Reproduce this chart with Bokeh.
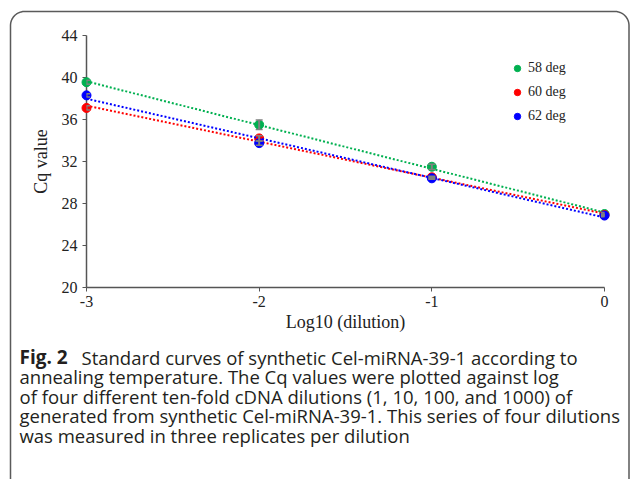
import numpy as np
from bokeh.plotting import figure
from bokeh.models import (ColumnDataSource, FixedTicker, Legend, LegendItem,
                          Whisker, TeeHead, Range1d)
from bokeh.core.properties import value
from bokeh.embed import file_html
from bokeh.resources import INLINE

# ---- data ----
log_dilution = [-3, -2, -1, 0]
series_names = ["58 deg", "60 deg", "62 deg"]
cq_58 = [39.55, 35.5, 31.5, 27.0]
cq_60 = [37.1, 34.2, 30.5, 26.9]
cq_62 = [38.3, 33.75, 30.4, 26.85]
err_58 = [0.2, 0.45, 0.25, 0.15]
err_60 = [0.2, 0.25, 0.1, 0.1]
err_62 = [0.15, 0.2, 0.1, 0.1]
colors = ["#00b050", "#ff0000", "#0000ff"]
y_ticks = [20, 24, 28, 32, 36, 40, 44]
x_ticks = [-3, -2, -1, 0]
x_tick_labels = ["-3", "-2", "-1", "0"]
caption_bold = "Fig. 2"
caption_lines = [
    "Standard curves of synthetic Cel-miRNA-39-1 according to",
    "annealing temperature. The Cq values were plotted against log",
    "of four different ten-fold cDNA dilutions (1, 10, 100, and 1000) of",
    "generated from synthetic Cel-miRNA-39-1. This series of four dilutions",
    "was measured in three replicates per dilution",
]

W, H = 630, 479
FL, FR, FT, FB = 86, 604, 35, 287

p = figure(width=W, height=H, output_backend="svg", toolbar_location=None,
           x_range=Range1d(-3, 0), y_range=Range1d(20, 44),
           min_border_left=FL, min_border_right=W - FR,
           min_border_top=FT, min_border_bottom=H - FB)
p.extra_x_ranges = {"px": Range1d(FL, FR)}
p.extra_y_ranges = {"px": Range1d(FB, FT)}
p.outline_line_color = None
p.xgrid.visible = False
p.ygrid.visible = False

serif = "Liberation Serif"
for ax in (p.xaxis[0], p.yaxis[0]):
    ax.axis_line_color = "#555555"
    ax.axis_line_width = 1.5
    ax.major_tick_line_color = "#555555"
    ax.major_tick_in = 0
    ax.major_tick_out = 4
    ax.minor_tick_line_color = None
    ax.major_label_text_font = serif
    ax.major_label_text_font_size = "16px"
    ax.major_label_text_color = "#222222"
    ax.axis_label_text_font = serif
    ax.axis_label_text_font_size = "18px"
    ax.axis_label_text_font_style = "normal"
    ax.axis_label_text_color = "#222222"

p.xaxis.ticker = FixedTicker(ticks=x_ticks)
p.xaxis.major_label_overrides = {t: s for t, s in zip(x_ticks, x_tick_labels)}
p.yaxis.ticker = FixedTicker(ticks=y_ticks)
p.xaxis.axis_label = "Log10 (dilution)"
p.yaxis.axis_label = "Cq value"
p.xaxis.major_label_standoff = 4
p.xaxis.axis_label_standoff = 2
p.yaxis.major_label_standoff = 5
p.yaxis.axis_label_standoff = 8

items = []
xs = np.array(log_dilution, dtype=float)
for name, ys, errs, col in zip(series_names, [cq_58, cq_60, cq_62],
                               [err_58, err_60, err_62], colors):
    ys = np.array(ys)
    slope, icpt = np.polyfit(xs, ys, 1)
    p.line([xs.min(), xs.max()], [slope * xs.min() + icpt, slope * xs.max() + icpt],
           line_color=col, line_width=2, line_dash="2 2", level="overlay")
    src = ColumnDataSource(dict(x=xs, y=ys, lo=ys - np.array(errs), hi=ys + np.array(errs)))
    w = Whisker(base="x", upper="hi", lower="lo", source=src, line_color="#808080",
                line_width=2, level="overlay",
                upper_head=TeeHead(size=7, line_color="#808080", line_width=1.5),
                lower_head=TeeHead(size=7, line_color="#808080", line_width=1.5))
    p.add_layout(w)
    r = p.scatter("x", "y", source=src, size=9, fill_color=col, line_color=col,
                  level="overlay")
    items.append(LegendItem(label=name, renderers=[r]))

leg = Legend(items=items, location=(423, 163), border_line_color=None,
             background_fill_alpha=0, padding=0, margin=0, spacing=8,
             glyph_width=16, glyph_height=16, label_height=16, label_standoff=3,
             label_text_font=serif, label_text_font_size="14px",
             label_text_color="#222222")
p.add_layout(leg)

# ---- outer panel border (pixel coordinates via the "px" ranges) ----
bl, bt, br, bb, rad = 10, 11, 628.5, 490, 14
t = np.linspace(0, np.pi / 2, 14)
left_corner_x = bl + rad - rad * np.cos(t)
left_corner_y = bt + rad - rad * np.sin(t)
right_corner_x = br - rad + rad * np.sin(t)
right_corner_y = bt + rad - rad * np.cos(t)
bx = np.concatenate([[bl], left_corner_x, right_corner_x, [br]])
by = np.concatenate([[bb], left_corner_y, right_corner_y, [bb]])
p.line(bx, by, x_range_name="px", y_range_name="px", line_color="#5a5a5a",
       line_width=1.5, level="overlay")

# ---- caption ----
sans = "Open Sans"
fs = "18.5px"
base_y = [356.5, 376, 395.5, 415, 434.5]
p.text(x=[19], y=[base_y[0]], text=[caption_bold], text_font=value(sans),
       text_font_style="bold", text_font_size="19px", text_color="#231f20",
       text_baseline="alphabetic", x_range_name="px", y_range_name="px",
       level="overlay")
xs_cap = [81] + [19] * (len(caption_lines) - 1)
p.text(x=xs_cap, y=base_y, text=caption_lines, text_font=value(sans),
       text_font_size=fs, text_color="#231f20", text_baseline="alphabetic",
       x_range_name="px", y_range_name="px", level="overlay")

open("out.html", "w").write(file_html(p, INLINE))
